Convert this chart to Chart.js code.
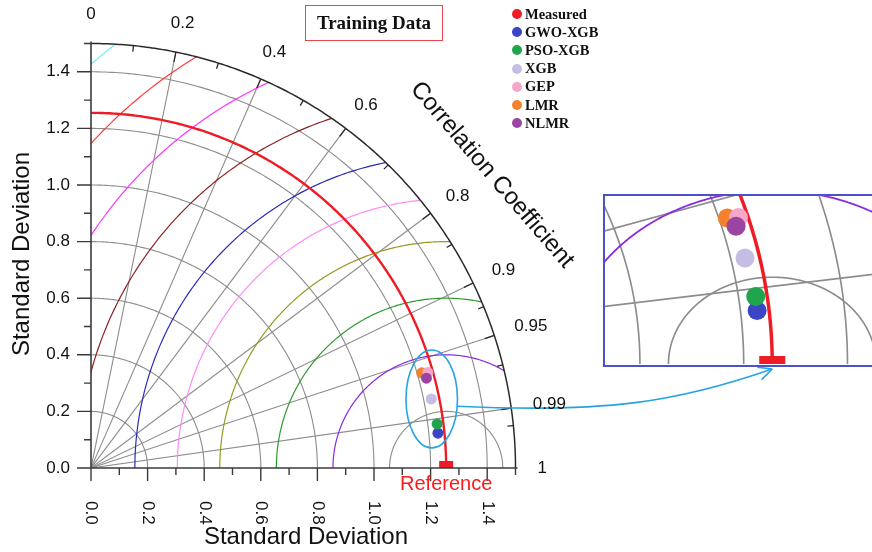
<!DOCTYPE html>
<html>
<head>
<meta charset="utf-8">
<script src="https://cdn.jsdelivr.net/npm/chart.js@4.4.1/dist/chart.umd.min.js"></script>
<style>
  html, body { margin: 0; padding: 0; background: #fff; overflow: hidden; }
  #wrap { position: relative; width: 872px; height: 552px; overflow: hidden; }
  #main { position: absolute; left: 0; top: 0; }
  #zoomBox { position: absolute; left: 603px; top: 194px; width: 275px; height: 173px;
             border: 2px solid #4b50cc; box-sizing: border-box; background: #fff; overflow: hidden; }
  #zoomBox canvas { position: absolute; left: 0; top: 0; }
  #title { position: absolute; left: 305px; top: 5px; width: 138px; height: 36px;
           border: 1.5px solid #e8464c; box-sizing: border-box; color: #111;
           font: bold 19px "Liberation Serif", serif;
           display: flex; align-items: center; justify-content: center; }
  #legend { position: absolute; left: 512px; top: 5px; color: #111;
            font: bold 14.5px "Liberation Serif", serif; }
  #legend .row { height: 18.2px; display: flex; align-items: center; }
  #legend .dot { width: 10px; height: 10px; border-radius: 50%; margin-right: 3px; }
</style>
</head>
<body>
<div id="wrap">
  <canvas id="main" width="872" height="552"></canvas>
  <div id="title">Training Data</div>
  <div id="legend"></div>
  <div id="zoomBox"><canvas id="zoom" width="272" height="169"></canvas></div>
</div>
<script>
// ---- values ----
const measuredName = 'Measured';
const measuredStd = 1.255;
const modelNames = ['GWO-XGB', 'PSO-XGB', 'XGB', 'GEP', 'LMR', 'NLMR'];
const modelStd   = [1.232, 1.233, 1.227, 1.237, 1.216, 1.227];
const modelCorr  = [0.995, 0.992, 0.980, 0.962, 0.961, 0.966];

// ---- axes / grid ----
const sdMax = 1.5;
const sdTicks = [0, 0.2, 0.4, 0.6, 0.8, 1.0, 1.2, 1.4];
const sdTickLabels = ['0.0', '0.2', '0.4', '0.6', '0.8', '1.0', '1.2', '1.4'];
const sdMinorTicks = [0.1, 0.3, 0.5, 0.7, 0.9, 1.1, 1.3, 1.5];
const sdArcs = [0.2, 0.4, 0.6, 0.8, 1.0, 1.2, 1.4];
const corrTicks = [0, 0.2, 0.4, 0.6, 0.8, 0.9, 0.95, 0.99, 1];
const corrTickLabels = ['0', '0.2', '0.4', '0.6', '0.8', '0.9', '0.95', '0.99', '1'];
const corrMinorTicks = [0.1, 0.3, 0.5, 0.7, 0.85, 0.925, 0.97, 0.995];
const corrLines = [0.2, 0.4, 0.6, 0.8, 0.9, 0.95, 0.99];
const rmsRadii = [0.2, 0.4, 0.6, 0.8, 0.95, 1.1, 1.3, 1.5, 1.7, 1.9];

// zoomed window (data units)
const zoomXRange = [0.9327, 1.4569];
const zoomYRange = [-0.0023, 0.3871];
// highlighted cluster (data units): centre and semi-axes
const clusterCentre = [1.204, 0.244];
const clusterAxes = [0.091, 0.173];

// ---- styles ----
const measuredColor = '#ee1c24';
const modelColors = ['#3b43c6', '#1fa64c', '#c6bee2', '#f6a7c9', '#f4822c', '#9b45a3'];
const modelLayer = [2, 1, 3, 5, 6, 4];   // lower value is drawn on top
const rmsColors = ['#8c8c8c', '#8a2be2', '#2e9a2e', '#9a9a22', '#ff8cf5',
                   '#2b2bb8', '#8b2323', '#ff33ff', '#ff3b3b', '#66f0f0'];
const gridColor = '#8c8c8c';
const calloutColor = '#27a3e3';
const SANS = '"Liberation Sans", Arial, sans-serif';

// legend
const legendEl = document.getElementById('legend');
[[measuredName, measuredColor]].concat(modelNames.map((n, i) => [n, modelColors[i]])).forEach(([n, c]) => {
  const row = document.createElement('div');
  row.className = 'row';
  row.innerHTML = '<span class="dot" style="background:' + c + '"></span><span>' + n + '</span>';
  legendEl.appendChild(row);
});

function toXY(sd, r) { return { x: sd * r, y: sd * Math.sqrt(Math.max(0, 1 - r * r)) }; }
function P(chart, x, y) { return [chart.scales.x.getPixelForValue(x), chart.scales.y.getPixelForValue(y)]; }
function arcPath(ctx, chart, cx, cy, r, a0, a1, n, cont) {
  for (let i = 0; i <= n; i++) {
    const a = a0 + (a1 - a0) * i / n;
    const p = P(chart, cx + r * Math.cos(a), cy + r * Math.sin(a));
    if (i === 0 && !cont) ctx.moveTo(p[0], p[1]); else ctx.lineTo(p[0], p[1]);
  }
}
function clipQuarter(ctx, chart) {
  ctx.beginPath();
  const o = P(chart, 0, 0);
  ctx.moveTo(o[0], o[1]);
  arcPath(ctx, chart, 0, 0, sdMax, Math.PI / 2, 0, 180, true);
  ctx.closePath();
  ctx.clip();
  const a = chart.chartArea;
  ctx.beginPath();
  ctx.rect(a.left, a.top, a.right - a.left, a.bottom - a.top);
  ctx.clip();
}
function corrLabelPos(o, R, c, w) {
  const s = Math.sqrt(1 - c * c);
  return [o[0] + (R + 22) * c + w / 2 * c, o[1] - (R + 22) * s - 7 * s];
}

const taylorPlugin = {
  id: 'taylor',
  beforeDatasetsDraw(chart, args, opts) {
    const ctx = chart.ctx;
    const zoom = opts.zoom;
    const k = zoom ? 1.5 : 1;
    ctx.save();
    clipQuarter(ctx, chart);
    ctx.lineWidth = 1.1 * k;
    ctx.strokeStyle = gridColor;
    // standard deviation arcs
    sdArcs.forEach(r => { ctx.beginPath(); arcPath(ctx, chart, 0, 0, r, 0, Math.PI / 2, 180); ctx.stroke(); });
    // correlation rays
    corrLines.forEach(c => {
      const e = toXY(sdMax, c), o = P(chart, 0, 0), q = P(chart, e.x, e.y);
      ctx.beginPath(); ctx.moveTo(o[0], o[1]); ctx.lineTo(q[0], q[1]); ctx.stroke();
    });
    // centred RMS difference circles
    rmsRadii.forEach((r, i) => {
      ctx.strokeStyle = rmsColors[i];
      ctx.lineWidth = (i === 0 ? 1.1 : 1.2) * k;
      ctx.beginPath(); arcPath(ctx, chart, measuredStd, 0, r, 0, Math.PI, 360); ctx.stroke();
    });
    // measured standard deviation
    ctx.strokeStyle = measuredColor;
    ctx.lineWidth = zoom ? 3.5 : 2.4;
    ctx.beginPath(); arcPath(ctx, chart, 0, 0, measuredStd, 0, Math.PI / 2, 240); ctx.stroke();
    ctx.restore();

    // reference marker
    const m = P(chart, measuredStd, 0);
    const w = zoom ? 26 : 14, h = zoom ? 8 : 7;
    ctx.fillStyle = measuredColor;
    ctx.fillRect(m[0] - w / 2, m[1] - h, w, h);
  },
  afterDraw(chart, args, opts) {
    if (opts.zoom) return;
    const ctx = chart.ctx;
    const o = P(chart, 0, 0);
    const R = chart.scales.x.getPixelForValue(sdMax) - o[0];
    ctx.save();
    // outer correlation arc
    ctx.strokeStyle = '#2a2a2a';
    ctx.lineWidth = 1.5;
    ctx.beginPath(); arcPath(ctx, chart, 0, 0, sdMax, Math.PI / 2, 0, 240); ctx.stroke();
    // axes
    ctx.strokeStyle = '#3a3a3a';
    ctx.lineWidth = 1.6;
    const xe = P(chart, sdMax, 0), ye = P(chart, 0, sdMax);
    ctx.beginPath(); ctx.moveTo(o[0], o[1]); ctx.lineTo(xe[0] + 2, xe[1]); ctx.stroke();
    ctx.beginPath(); ctx.moveTo(o[0], o[1]); ctx.lineTo(ye[0], ye[1] - 2); ctx.stroke();
    ctx.lineWidth = 1.4;
    ctx.beginPath();
    sdTicks.forEach(v => {
      const px = chart.scales.x.getPixelForValue(v), py = chart.scales.y.getPixelForValue(v);
      ctx.moveTo(px, o[1]); ctx.lineTo(px, o[1] + 13);
      ctx.moveTo(o[0], py); ctx.lineTo(o[0] - 14, py);
    });
    sdMinorTicks.forEach(v => {
      const px = chart.scales.x.getPixelForValue(v), py = chart.scales.y.getPixelForValue(v);
      ctx.moveTo(px, o[1]); ctx.lineTo(px, o[1] + 7);
      ctx.moveTo(o[0], py); ctx.lineTo(o[0] - 7, py);
    });
    ctx.stroke();
    // correlation ticks, pointing inwards
    ctx.strokeStyle = '#2a2a2a';
    ctx.lineWidth = 1.3;
    ctx.beginPath();
    const tick = (c, len) => {
      const s = Math.sqrt(1 - c * c);
      ctx.moveTo(o[0] + R * c, o[1] - R * s);
      ctx.lineTo(o[0] + (R - len) * c, o[1] - (R - len) * s);
    };
    corrTicks.slice(1, -1).forEach(c => tick(c, 10));
    corrMinorTicks.forEach(c => tick(c, 6));
    ctx.stroke();

    // tick labels
    ctx.fillStyle = '#111';
    ctx.font = '17px ' + SANS;
    ctx.textAlign = 'right'; ctx.textBaseline = 'middle';
    sdTicks.forEach((v, i) => ctx.fillText(sdTickLabels[i], o[0] - 21, chart.scales.y.getPixelForValue(v)));
    sdTicks.forEach((v, i) => {
      ctx.save();
      ctx.translate(chart.scales.x.getPixelForValue(v), o[1] + 33);
      ctx.rotate(Math.PI / 2);
      ctx.textAlign = 'left';
      ctx.fillText(sdTickLabels[i], 0, 0);
      ctx.restore();
    });
    ctx.textAlign = 'center';
    const i99 = corrTicks.indexOf(0.99);
    corrTicks.forEach((c, i) => {
      if (i === i99) return;   // drawn after the callout line
      const p = corrLabelPos(o, R, c, ctx.measureText(corrTickLabels[i]).width);
      ctx.fillText(corrTickLabels[i], p[0], p[1]);
    });

    // axis titles
    ctx.font = '24px ' + SANS;
    ctx.fillStyle = '#111';
    ctx.fillText('Standard Deviation', 306, 537);
    ctx.save();
    ctx.translate(22, 254); ctx.rotate(-Math.PI / 2);
    ctx.fillText('Standard Deviation', 0, 0);
    ctx.restore();
    ctx.save();
    ctx.translate(492, 175); ctx.rotate(49.3 * Math.PI / 180);
    ctx.fillText('Correlation Coefficient', 0, 0);
    ctx.restore();

    // reference label
    const m = P(chart, measuredStd, 0);
    ctx.fillStyle = '#ff1a1a';
    ctx.font = '20px ' + SANS;
    ctx.fillText('Reference', m[0], m[1] + 16);

    // cluster ellipse
    ctx.strokeStyle = calloutColor;
    ctx.lineWidth = 1.6;
    ctx.beginPath();
    const c0 = P(chart, clusterCentre[0], clusterCentre[1]);
    const rx = chart.scales.x.getPixelForValue(clusterCentre[0] + clusterAxes[0]) - c0[0];
    const ry = c0[1] - chart.scales.y.getPixelForValue(clusterCentre[1] + clusterAxes[1]);
    ctx.ellipse(c0[0], c0[1], rx, ry, 0, 0, Math.PI * 2);
    ctx.stroke();

    // callout to the zoomed window
    if (window.zoomChart) {
      const box = document.getElementById('zoomBox');
      const tipX = box.offsetLeft + 2 + window.zoomChart.scales.x.getPixelForValue(measuredStd);
      const tipY = box.offsetTop + box.offsetHeight + 2;
      const p0x = c0[0] + rx * Math.cos(0.15), p0y = c0[1] + ry * Math.sin(0.15);
      const p2x = tipX - 95, p2y = tipY + 33;
      ctx.beginPath();
      ctx.moveTo(p0x, p0y);
      ctx.bezierCurveTo(p0x + 150, p0y + 7, p2x, p2y, tipX, tipY);
      ctx.stroke();
      const ang = Math.atan2(tipY - p2y, tipX - p2x);
      ctx.beginPath();
      [0.45, -0.45].forEach(d => {
        ctx.moveTo(tipX, tipY);
        ctx.lineTo(tipX - 15 * Math.cos(ang + d), tipY - 15 * Math.sin(ang + d));
      });
      ctx.stroke();
    }

    // 0.99 label sits over the callout line
    ctx.fillStyle = '#111';
    ctx.font = '17px ' + SANS;
    ctx.textAlign = 'center'; ctx.textBaseline = 'middle';
    const p99 = corrLabelPos(o, R, corrTicks[i99], ctx.measureText(corrTickLabels[i99]).width);
    ctx.fillText(corrTickLabels[i99], p99[0], p99[1]);
    ctx.restore();
  }
};

function modelDatasets(radius) {
  return modelNames.map((n, i) => ({
    label: n,
    data: [toXY(modelStd[i], modelCorr[i])],
    backgroundColor: modelColors[i],
    borderWidth: 0,
    pointRadius: radius,
    pointHoverRadius: radius,
    order: modelLayer[i]
  }));
}

function baseOptions(xr, yr, padding, zoom) {
  return {
    responsive: false,
    animation: false,
    events: [],
    layout: { padding: padding, autoPadding: false },
    scales: {
      x: { type: 'linear', min: xr[0], max: xr[1], display: false },
      y: { type: 'linear', min: yr[0], max: yr[1], display: false }
    },
    plugins: { legend: { display: false }, tooltip: { enabled: false }, taylor: { zoom: zoom } }
  };
}

window.zoomChart = new Chart(document.getElementById('zoom'), {
  type: 'scatter',
  data: { datasets: modelDatasets(9.5) },
  options: baseOptions(zoomXRange, zoomYRange, 0, true),
  plugins: [taylorPlugin]
});

new Chart(document.getElementById('main'), {
  type: 'scatter',
  data: { datasets: modelDatasets(5.5) },
  options: baseOptions([0, sdMax], [0, sdMax], { left: 91, top: 43.5, right: 356.5, bottom: 84 }, false),
  plugins: [taylorPlugin]
});
</script>
</body>
</html>
